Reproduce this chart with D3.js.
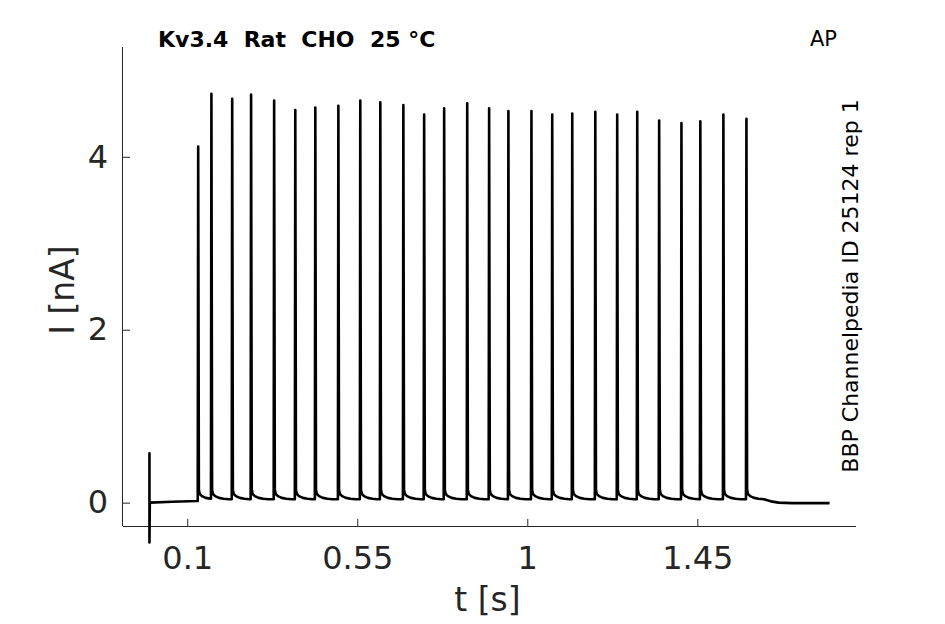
<!DOCTYPE html>
<html>
<head>
<meta charset="utf-8">
<script src="https://cdn.jsdelivr.net/npm/d3@7"></script>
<style>
  body { margin: 0; background: #fff; }
  text { font-family: "DejaVu Sans", sans-serif; }
</style>
</head>
<body>
<div id="chart"></div>
<script>
// spike times (s) and peak currents (nA)
var spikeTimes = [0.129, 0.164, 0.219, 0.269, 0.330, 0.386, 0.439, 0.500, 0.558,
                  0.611, 0.672, 0.727, 0.780, 0.841, 0.899, 0.950, 1.011, 1.066,
                  1.119, 1.180, 1.238, 1.291, 1.349, 1.408, 1.458, 1.519, 1.580];
var spikePeaks = [4.12, 4.73, 4.67, 4.72, 4.65, 4.54, 4.57, 4.59, 4.65,
                  4.63, 4.60, 4.49, 4.56, 4.62, 4.56, 4.53, 4.53, 4.49,
                  4.50, 4.52, 4.49, 4.52, 4.42, 4.39, 4.41, 4.49, 4.44];

// decay after each peak: offset from peak (s) and current (nA)
var tailOffsets = [0.0018, 0.004, 0.010, 0.020, 0.032, 0.046];
var tailValues  = [0.15, 0.10, 0.075, 0.055, 0.045, 0.04];

// stimulus artefact at t = 0, baseline before first spike, end of record
var artefactTimes  = [0, 0, 0, 0.001, 0.06, 0.127];
var artefactValues = [0.0, 0.57, -0.46, 0.0, 0.01, 0.02];
var endTimes  = [1.645, 1.665, 1.700, 1.800];
var endValues = [0.015, 0.0, -0.005, -0.005];

var xTicks = [0.1, 0.55, 1, 1.45];
var xTickLabels = ["0.1", "0.55", "1", "1.45"];
var yTicks = [0, 2, 4];

var width = 945, height = 624;
var plotLeft = 123, plotRight = 856, plotTop = 47, plotBottom = 526;

var svg = d3.select("#chart").append("svg")
    .attr("width", width)
    .attr("height", height);

var x = d3.scaleLinear().domain([-0.07, 1.87]).range([plotLeft, plotRight]);
var y = d3.scaleLinear().domain([-0.27, 5.27]).range([plotBottom, plotTop]);

// build the trace point list
var trace = [];
artefactTimes.forEach(function(t, i) { trace.push([t, artefactValues[i]]); });
spikeTimes.forEach(function(t, i) {
  var prev = trace[trace.length - 1][1];
  trace.push([t - 0.0012, prev]);
  trace.push([t, spikePeaks[i]]);
  tailOffsets.forEach(function(o, j) {
    if (i < spikeTimes.length - 1 && t + o >= spikeTimes[i + 1] - 0.0015) return;
    trace.push([t + o, tailValues[j]]);
  });
});
endTimes.forEach(function(t, i) { trace.push([t, endValues[i]]); });

// axes (MATLAB style, ticks inward)
var axisColor = "#262626";
var xAxis = d3.axisBottom(x).tickValues(xTicks)
    .tickFormat(function(d, i) { return xTickLabels[i]; })
    .tickSize(-7).tickPadding(20);
var yAxis = d3.axisLeft(y).tickValues(yTicks)
    .tickFormat(d3.format("d"))
    .tickSize(-7).tickPadding(15);

var gx = svg.append("g").attr("transform", "translate(0," + plotBottom + ")").call(xAxis);
var gy = svg.append("g").attr("transform", "translate(" + plotLeft + ",0)").call(yAxis);

[gx, gy].forEach(function(g) {
  g.select(".domain").attr("stroke", axisColor).attr("stroke-width", 1);
  g.selectAll(".tick line").attr("stroke", axisColor).attr("stroke-width", 1);
  g.selectAll(".tick text")
    .attr("fill", axisColor)
    .style("font-family", "DejaVu Sans")
    .style("font-size", "32px");
});
// redraw domains to span the full box
gx.select(".domain").attr("d", "M" + plotLeft + ",0.5H" + plotRight);
gy.select(".domain").attr("d", "M-0.5," + plotTop + "V" + plotBottom);

// trace
var line = d3.line()
    .x(function(d) { return x(d[0]); })
    .y(function(d) { return y(d[1]); });

svg.append("path")
    .datum(trace)
    .attr("d", line)
    .attr("fill", "none")
    .attr("stroke", "#000")
    .attr("stroke-width", 2.6)
    .attr("stroke-linejoin", "round");

// labels
svg.append("text")
    .attr("x", (plotLeft + plotRight) / 2 - 2)
    .attr("y", 611)
    .attr("text-anchor", "middle")
    .attr("fill", axisColor)
    .style("font-size", "33px")
    .text("t [s]");

svg.append("text")
    .attr("transform", "translate(74,290) rotate(-90)")
    .attr("text-anchor", "middle")
    .attr("fill", axisColor)
    .style("font-size", "33px")
    .text("I [nA]");

svg.append("text")
    .attr("x", 158)
    .attr("y", 47)
    .attr("fill", "#000")
    .style("font-size", "22px")
    .style("font-weight", "bold")
    .style("white-space", "pre")
    .text("Kv3.4  Rat  CHO  25 °C");

svg.append("text")
    .attr("x", 810)
    .attr("y", 46)
    .attr("fill", "#000")
    .style("font-size", "21px")
    .text("AP");

svg.append("text")
    .attr("transform", "translate(858,286) rotate(-90)")
    .attr("text-anchor", "middle")
    .attr("fill", "#000")
    .style("font-size", "22px")
    .text("BBP Channelpedia ID 25124 rep 1");
</script>
</body>
</html>
